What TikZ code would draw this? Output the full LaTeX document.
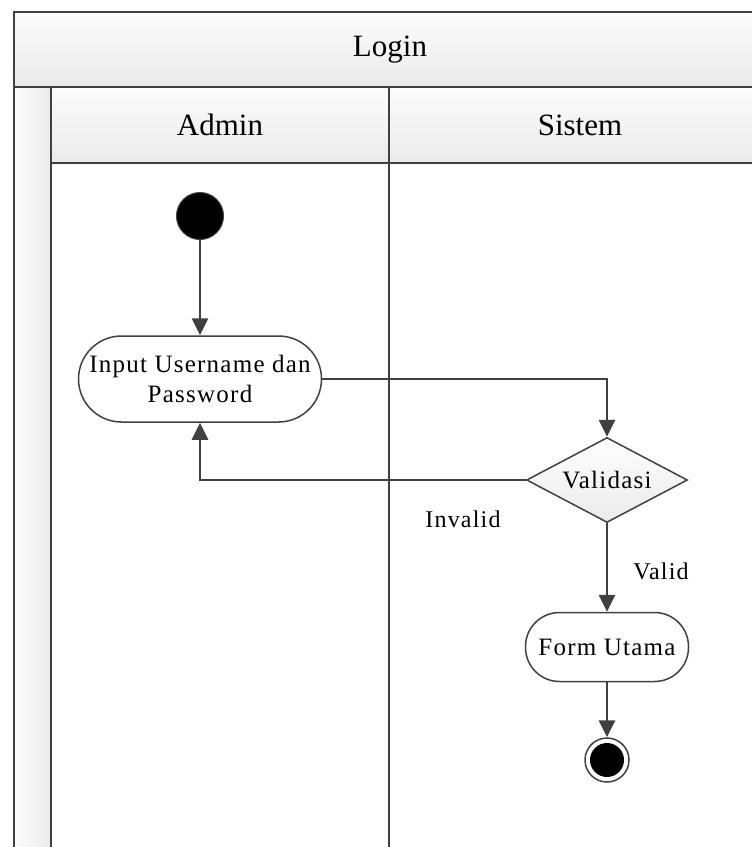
\documentclass[tikz,border=0pt]{standalone}
\usepackage{fontspec}
\setmainfont{Liberation Serif}
\usepackage{tikz}
\usetikzlibrary{arrows.meta,shapes.geometric}

\definecolor{linegray}{HTML}{404040}
\definecolor{headtop}{HTML}{FCFCFC}
\definecolor{headbot}{HTML}{EAEAEA}

\begin{document}
\begin{tikzpicture}[x=1pt,y=-1pt,
    lane/.style={draw=linegray,line width=2.2pt},
    headtext/.style={font=\fontsize{31}{36}\selectfont},
    flow/.style={draw=linegray,line width=2.8pt,-{Triangle[length=17pt,width=16pt]}},
    action/.style={draw=linegray,line width=1.5pt,fill=white,align=center,
        font=\fontsize{25}{30}\selectfont\addfontfeature{LetterSpace=5}},
    decision/.style={diamond,aspect=1.9,draw=linegray,line width=1.5pt,top color=white,
        bottom color=headbot,minimum width=161pt,minimum height=85pt,inner sep=0pt,
        font=\fontsize{25}{30}\selectfont\addfontfeature{LetterSpace=5}},
    guard/.style={font=\fontsize{24}{28}\selectfont\addfontfeature{LetterSpace=5}}]

    \useasboundingbox (0,0) rectangle (752,847);
    \clip (0,0) rectangle (752,847);

    % Pool en lanes
    \fill[top color=headtop,bottom color=headbot] (14,12) rectangle (770,87);
    \fill[left color=headtop,right color=headbot] (14,87) rectangle (51,860);
    \fill[top color=headtop,bottom color=headbot] (51,87) rectangle (770,163);
    \draw[lane] (14,860) -- (14,12) -- (770,12);
    \draw[lane] (14,87) -- (770,87);
    \draw[lane] (51,87) -- (51,860);
    \draw[lane] (51,163) -- (770,163);
    \draw[lane] (389,87) -- (389,860);

    \node[headtext] (pool) at (390,50) {Login};
    \node[headtext] (admin) at (220,125) {Admin};
    \node[headtext] (sistem) at (580,125) {Sistem};

    % Knopen
    \node[circle,fill=black,draw=linegray,line width=1pt,minimum size=47pt,inner sep=0pt] (start) at (200,216) {};
    \node[action,minimum width=243pt,minimum height=86pt,rounded corners=43pt,inner sep=0pt] (input) at (200,379) {Input Username dan\\Password};
    \node[decision] (validasi) at (607,480) {Validasi};
    \node[action,minimum width=163pt,minimum height=69pt,rounded corners=34pt,inner sep=0pt] (form) at (607,647) {Form Utama};
    \node[circle,fill=white,draw=linegray,line width=1.5pt,minimum size=44pt,inner sep=0pt] (end) at (607,760) {};
    \node[circle,fill=black,minimum size=34pt,inner sep=0pt] (endin) at (end) {};

    % Overgangen
    \draw[flow] (start) -- (input);
    \draw[flow] (input.east) -| (validasi.north);
    \draw[flow] (validasi.west) -| (input.south);
    \draw[flow] (validasi.south) -- (form.north);
    \draw[flow] (form.south) -- (end.north);

    \node[guard] (invalid) at (463,519) {Invalid};
    \node[guard] (valid) at (661,571) {Valid};

\end{tikzpicture}
\end{document}
